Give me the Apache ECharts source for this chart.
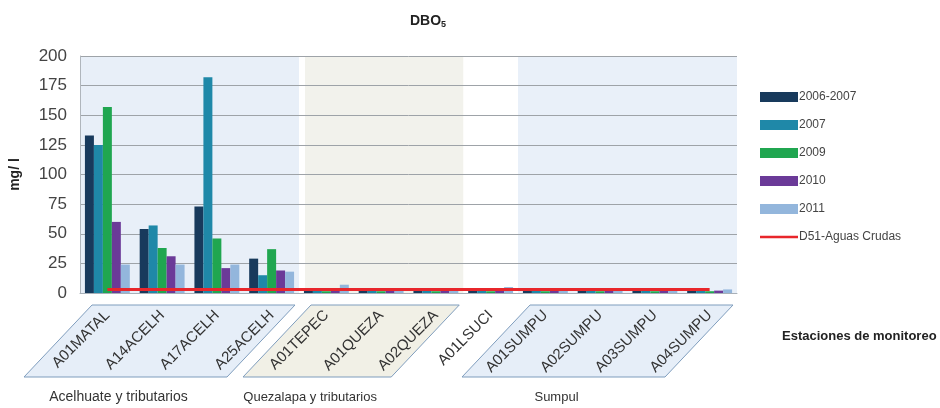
<!DOCTYPE html>
<html>
<head>
<meta charset="utf-8">
<script src="https://cdn.jsdelivr.net/npm/echarts@6/dist/echarts.min.js"></script>
<style>
  html, body { margin: 0; padding: 0; background: #fff; }
  #main { width: 940px; height: 408px; }
</style>
</head>
<body>
<div id="main"></div>
<script>
// estaciones de monitoreo
var estaciones = ["A01MATAL", "A14ACELH", "A17ACELH", "A25ACELH", "A01TEPEC", "A01QUEZA",
  "A02QUEZA", "A01LSUCI", "A01SUMPU", "A02SUMPU", "A03SUMPU", "A04SUMPU"];

// DBO5 (mg/l) por periodo
var d20062007 = [133, 54, 73, 29, 2, 2, 2, 2, 2, 2, 2, 2];
var d2007 = [125, 57, 182, 15, 2, 2, 2, 2, 2, 2, 2, 2];
var d2009 = [157, 38, 46, 37, 1.5, 1.5, 1.5, 1.5, 1.5, 1.5, 1.5, 1.5];
var d2010 = [60, 31, 21, 19, 2, 2, 2, 2, 2, 2, 2, 2];
var d2011 = [24, 24, 24, 18, 7, 2, 2, 5, 2, 2, 2, 3];
// norma D51 aguas crudas
var d51 = [3, 3, 3, 3, 3, 3, 3, 3, 3, 3, 3, 3];

var yTicks = [0, 25, 50, 75, 100, 125, 150, 175, 200];

// cuencas (indices de estaciones)
var cuencas = [
  { name: "Acelhuate y tributarios", desde: 0, hasta: 3 },
  { name: "Quezalapa y tributarios", desde: 4, hasta: 6 },
  { name: "", desde: 7, hasta: 7 },
  { name: "Sumpul", desde: 8, hasta: 11 }
];
var fondos = ["#e8eff8", "#f2f2ec", null, "#e9f0f9"];
var cajas = ["#e6eef8", "#f1f0e6", null, "#e6eef8"];

var colores = ["#183a5c", "#1f88a8", "#20a650", "#6b3a98", "#93b6dc"];

var chart = echarts.init(document.getElementById("main"));
var font = "Liberation Sans, Arial, sans-serif";

function barra(nombre, datos, i) {
  return {
    name: nombre,
    type: "bar",
    data: datos,
    barGap: 0,
    barCategoryGap: "18%",
    itemStyle: { color: colores[i] },
    z: 2
  };
}

var option = {
  animation: false,
  textStyle: { fontFamily: font },
  title: {
    text: "{b|DBO}{s|5}",
    left: 405,
    top: 8,
    textStyle: {
      rich: {
        b: { fontSize: 14, fontWeight: "bold", color: "#222", fontFamily: font },
        s: { fontSize: 9, fontWeight: "bold", color: "#222", fontFamily: font, padding: [7, 0, 0, 0] }
      }
    }
  },
  grid: { left: 77, right: 203, top: 56, bottom: 115, containLabel: false },
  legend: {
    orient: "vertical",
    left: 755,
    top: 86,
    icon: "rect",
    itemWidth: 38,
    itemHeight: 10,
    itemGap: 16,
    textStyle: { fontSize: 12, color: "#444", fontFamily: font, padding: [0, 0, 0, -4] },
    data: ["2006-2007", "2007", "2009", "2010", "2011",
      { name: "D51-Aguas Crudas", icon: "path://M0,0L38,0L38,2.5L0,2.5Z" }]
  },
  xAxis: {
    type: "category",
    data: estaciones,
    z: 1,
    axisLine: { lineStyle: { color: "#a8b0b8" } },
    axisTick: { show: false },
    axisLabel: {
      rotate: 45,
      interval: 0,
      fontSize: 15,
      color: "#333",
      margin: 20,
      fontFamily: font
    }
  },
  yAxis: {
    type: "value",
    min: 0,
    max: 200,
    interval: 25,
    z: 1,
    name: "mg/ l",
    nameLocation: "middle",
    nameRotate: 90,
    nameGap: 58,
    nameTextStyle: { fontSize: 14, fontWeight: "bold", color: "#222", fontFamily: font },
    axisLine: { show: true, lineStyle: { color: "#b0b6bc" } },
    axisTick: { show: false },
    axisLabel: {
      fontSize: 17,
      color: "#444",
      margin: 13,
      fontFamily: font,
      formatter: function (v) { return yTicks.indexOf(v) >= 0 ? String(v) : ""; }
    },
    splitLine: { lineStyle: { color: "#9ea3a8", width: 1 } }
  },
  series: [
    barra("2006-2007", d20062007, 0),
    barra("2007", d2007, 1),
    barra("2009", d2009, 2),
    barra("2010", d2010, 3),
    barra("2011", d2011, 4),
    {
      name: "D51-Aguas Crudas",
      type: "line",
      data: d51,
      symbol: "none",
      lineStyle: { color: "#e8262b", width: 3 },
      itemStyle: { color: "#e8262b" },
      z: 5
    }
  ]
};

chart.setOption(option);

// fondos de cuencas, cajas de etiquetas y textos
function dibujarExtras() {
  var c0 = chart.convertToPixel({ xAxisIndex: 0 }, 0);
  var c1 = chart.convertToPixel({ xAxisIndex: 0 }, 1);
  var bw = c1 - c0;
  var yTop = chart.convertToPixel({ yAxisIndex: 0 }, 200);
  var yCero = chart.convertToPixel({ yAxisIndex: 0 }, 0);
  var elems = [];
  cuencas.forEach(function (cu, k) {
    var x0 = chart.convertToPixel({ xAxisIndex: 0 }, cu.desde) - bw / 2;
    var x1 = chart.convertToPixel({ xAxisIndex: 0 }, cu.hasta) + bw / 2;
    if (fondos[k]) {
      elems.push({
        type: "rect",
        z: -10,
        shape: { x: x0 + (k === 1 ? 6 : 0), y: yTop, width: x1 - x0 - (k === 1 ? 6 : 0), height: yCero - yTop },
        style: { fill: fondos[k] },
        silent: true
      });
    }
    if (cajas[k]) {
      var t = yCero + 12, b = yCero + 84, s = 68;
      var a = x0 + 12, d = x1 - 4;
      elems.push({
        type: "polygon",
        z: -10,
        shape: { points: [[a, t], [d, t], [d - s, b], [a - s, b]] },
        style: { fill: cajas[k], stroke: "#7f9dbd", lineWidth: 1 },
        silent: true
      });
    }
    if (cu.name) {
      elems.push({
        type: "text",
        x: (x0 + x1) / 2 - 71,
        y: yCero + 104,
        style: {
          text: cu.name,
          fontSize: k === 0 ? 14 : 13,
          fill: "#333",
          fontFamily: font,
          align: "center",
          verticalAlign: "middle"
        },
        silent: true
      });
    }
  });
  elems.push({
    type: "text",
    x: 782,
    y: 336,
    style: {
      text: "Estaciones de monitoreo",
      fontSize: 13,
      fontWeight: "bold",
      fill: "#222",
      fontFamily: font,
      verticalAlign: "middle"
    },
    silent: true
  });
  chart.setOption({ graphic: elems });
}
dibujarExtras();
</script>
</body>
</html>
